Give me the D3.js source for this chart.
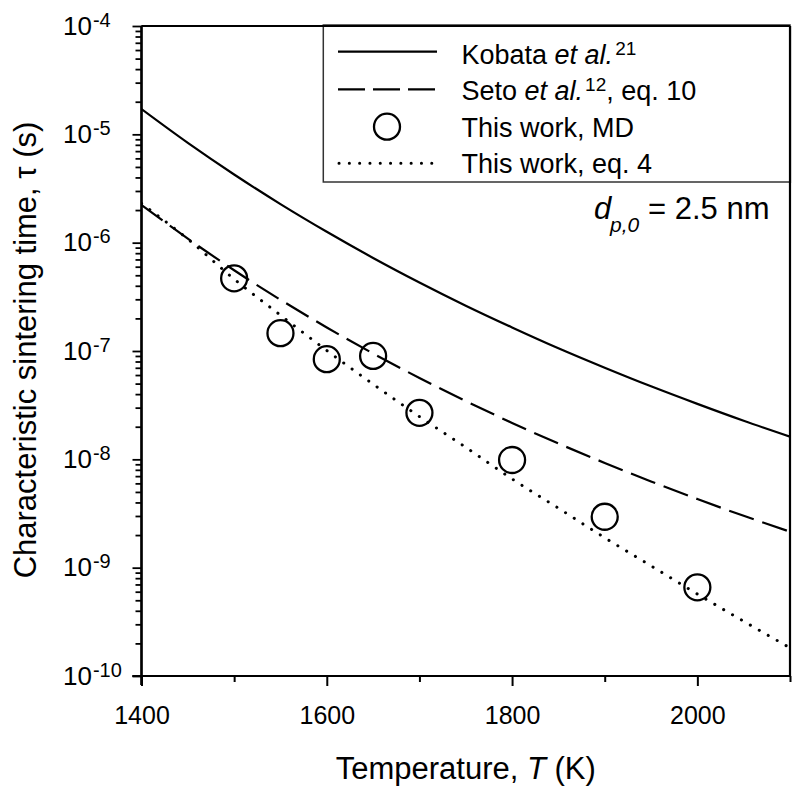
<!DOCTYPE html>
<html>
<head>
<meta charset="utf-8">
<script src="https://cdn.jsdelivr.net/npm/d3@7"></script>
<style>
  html, body { margin: 0; padding: 0; background: #fff; }
  svg { display: block; }
  text { font-family: "Liberation Sans", Arial, sans-serif; fill: #000; }
</style>
</head>
<body>
<svg id="chart" width="800" height="798"></svg>
<script>
// ---- Data ----
const temperatures = [1400, 1450, 1500, 1550, 1600, 1650, 1700, 1750, 1800, 1850, 1900, 1950, 2000, 2050, 2100];
const kobata = [1.71e-5, 8.34e-6, 4.26e-6, 2.27e-6, 1.26e-6, 7.23e-7, 4.29e-7, 2.62e-7, 1.65e-7, 1.06e-7, 7.01e-8, 4.72e-8, 3.25e-8, 2.27e-8, 1.62e-8];
const seto = [2.23e-6, 1.09e-6, 5.56e-7, 2.97e-7, 1.65e-7, 9.48e-8, 5.64e-8, 3.45e-8, 2.17e-8, 1.40e-8, 9.27e-9, 6.25e-9, 4.30e-9, 3.01e-9, 2.15e-9];
const eq4 = [2.30e-6, 1.08e-6, 4.61e-7, 2.14e-7, 1.01e-7, 4.94e-8, 2.48e-8, 1.29e-8, 6.59e-9, 3.54e-9, 1.89e-9, 1.04e-9, 5.71e-10, 3.20e-10, 1.82e-10];
const mdT = [1500, 1550, 1600, 1650, 1700, 1800, 1900, 2000];
const mdTau = [4.69e-7, 1.46e-7, 8.4e-8, 9.0e-8, 2.69e-8, 9.86e-9, 2.95e-9, 6.59e-10];

const xMajorTicks = [1400, 1600, 1800, 2000];
const xMinorTicks = [1500, 1700, 1900, 2100];
const yExponents = [-4, -5, -6, -7, -8, -9, -10];

const svg = d3.select("#chart");
const L = 141.5, R = 790, T = 26, B = 676;
const x = d3.scaleLinear().domain([1400, 2100]).range([L, R]);
const y = d3.scaleLog().domain([1e-10, 1e-4]).range([B, T]);

const font = '"Liberation Sans", Arial, sans-serif';

// frame top & right
svg.append("line").attr("x1", L).attr("x2", R).attr("y1", T).attr("y2", T)
  .attr("stroke", "#000").attr("stroke-width", 2.2);
svg.append("line").attr("x1", R).attr("x2", R).attr("y1", T).attr("y2", B)
  .attr("stroke", "#000").attr("stroke-width", 2.2);

// x axis
const gx = svg.append("g").attr("transform", `translate(0,${B})`);
gx.call(d3.axisBottom(x).tickValues(xMajorTicks).tickSize(10).tickPadding(20)
  .tickFormat(d3.format("d")));
const gxm = svg.append("g").attr("transform", `translate(0,${B})`);
gxm.call(d3.axisBottom(x).tickValues(xMinorTicks).tickSize(6).tickFormat(""));
[gx, gxm].forEach(g => {
  g.select(".domain").attr("stroke", "#000").attr("stroke-width", 2.2)
    .attr("d", `M${L - 9},0H${R}`);
  g.selectAll(".tick line").attr("stroke", "#000").attr("stroke-width", 2);
});
gx.selectAll(".tick text").attr("font-size", 25).attr("font-family", font).attr("fill", "#000");

// y axis major / minor
const yMajorVals = yExponents.map(e => Math.pow(10, e));
const yMinorVals = [];
for (let e = -10; e < -4; e++) for (let m = 2; m <= 9; m++) yMinorVals.push(m * Math.pow(10, e));
const gy = svg.append("g").attr("transform", `translate(${L},0)`);
gy.call(d3.axisLeft(y).tickValues(yMajorVals).tickSize(9).tickFormat(""));
const gym = svg.append("g").attr("transform", `translate(${L},0)`);
gym.call(d3.axisLeft(y).tickValues(yMinorVals).tickSize(6).tickFormat(""));
[gy, gym].forEach(g => {
  g.select(".domain").attr("stroke", "#000").attr("stroke-width", 2.2)
    .attr("d", `M0,${B + 9}V${T}`);
  g.selectAll(".tick line").attr("stroke", "#000").attr("stroke-width", 1.8);
});
// y tick labels 10^n
yExponents.forEach(e => {
  const yy = y(Math.pow(10, e));
  const t = svg.append("text").attr("x", 63).attr("y", yy + 8.5)
    .attr("font-size", 26).attr("font-family", font);
  t.append("tspan").text("10");
  t.append("tspan").attr("font-size", 20).attr("dy", -8).attr("dx", 1).text("-" + Math.abs(e));
});

// axis titles
const xt = svg.append("text").attr("x", (L + R) / 2).attr("y", 779)
  .attr("text-anchor", "middle").attr("font-size", 31).attr("font-family", font);
xt.append("tspan").text("Temperature, ");
xt.append("tspan").attr("font-style", "italic").text("T");
xt.append("tspan").text(" (K)");

svg.append("text").attr("transform", "translate(36,350) rotate(-90)")
  .attr("text-anchor", "middle").attr("font-size", 31).attr("font-family", font)
  .text("Characteristic sintering time, τ (s)");

// curves
const clip = svg.append("clipPath").attr("id", "plotclip").append("rect")
  .attr("x", L).attr("y", T).attr("width", R - L).attr("height", B - T);
const line = d3.line().x(d => x(d[0])).y(d => y(d[1])).curve(d3.curveMonotoneX);
const plot = svg.append("g").attr("clip-path", "url(#plotclip)");

plot.append("path").datum(temperatures.map((t, i) => [t, kobata[i]]))
  .attr("d", line).attr("fill", "none").attr("stroke", "#000").attr("stroke-width", 2.2);
plot.append("path").datum(temperatures.map((t, i) => [t, seto[i]]))
  .attr("d", line).attr("fill", "none").attr("stroke", "#000").attr("stroke-width", 2.2)
  .attr("stroke-dasharray", "26,9");
plot.append("path").datum(temperatures.map((t, i) => [t, eq4[i]]))
  .attr("d", line).attr("fill", "none").attr("stroke", "#000").attr("stroke-width", 3)
  .attr("stroke-linecap", "round").attr("stroke-dasharray", "0.1,10.2");

// MD points
svg.append("g").selectAll("circle").data(mdT.map((t, i) => [t, mdTau[i]])).join("circle")
  .attr("cx", d => x(d[0])).attr("cy", d => y(d[1])).attr("r", 13)
  .attr("fill", "none").attr("stroke", "#000").attr("stroke-width", 2.3);

// annotation d_p,0 = 2.5 nm
const ann = svg.append("text").attr("y", 218.5).attr("font-size", 31).attr("font-family", font);
ann.append("tspan").attr("x", 594).attr("font-style", "italic").text("d");
ann.append("tspan").attr("x", 610).attr("dy", 13).attr("font-size", 21).attr("font-style", "italic").text("p,0");
ann.append("tspan").attr("x", 648).attr("dy", -13).text("= 2.5 nm");

// legend
const lg = svg.append("g");
lg.append("rect").attr("x", 323.3).attr("y", 25).attr("width", 790 - 323.3).attr("height", 157)
  .attr("fill", "#fff").attr("stroke", "#333").attr("stroke-width", 1.5);
lg.append("line").attr("x1", R).attr("x2", R).attr("y1", T).attr("y2", 183)
  .attr("stroke", "#000").attr("stroke-width", 2.2);
lg.append("line").attr("x1", L).attr("x2", R).attr("y1", T).attr("y2", T)
  .attr("stroke", "#000").attr("stroke-width", 2.2);
const lx1 = 338, lx2 = 437, tx = 461.5;
lg.append("line").attr("x1", lx1).attr("x2", lx2).attr("y1", 51.7).attr("y2", 51.7)
  .attr("stroke", "#000").attr("stroke-width", 2.2);
lg.append("line").attr("x1", lx1).attr("x2", lx2).attr("y1", 89.3).attr("y2", 89.3)
  .attr("stroke", "#000").attr("stroke-width", 2.2).attr("stroke-dasharray", "27,8");
lg.append("circle").attr("cx", 387).attr("cy", 126.7).attr("r", 13)
  .attr("fill", "none").attr("stroke", "#000").attr("stroke-width", 2.3);
lg.append("line").attr("x1", lx1 + 1).attr("x2", lx2).attr("y1", 163.3).attr("y2", 163.3)
  .attr("stroke", "#000").attr("stroke-width", 3).attr("stroke-linecap", "round")
  .attr("stroke-dasharray", "0.1,10.2");

const t1 = lg.append("text").attr("x", tx).attr("y", 63.5).attr("font-size", 27).attr("font-family", font);
t1.append("tspan").text("Kobata ");
t1.append("tspan").attr("font-style", "italic").text("et al.");
t1.append("tspan").attr("font-size", 19).attr("dy", -9).attr("dx", 2).text("21");

const t2 = lg.append("text").attr("x", tx).attr("y", 100).attr("font-size", 27).attr("font-family", font);
t2.append("tspan").text("Seto ");
t2.append("tspan").attr("font-style", "italic").text("et al.");
t2.append("tspan").attr("font-size", 19).attr("dy", -9).attr("dx", 2).text("12");
t2.append("tspan").attr("dy", 9).text(", eq. 10");

lg.append("text").attr("x", tx).attr("y", 136.5).attr("font-size", 27).attr("font-family", font)
  .text("This work, MD");
lg.append("text").attr("x", tx).attr("y", 172.5).attr("font-size", 27).attr("font-family", font)
  .text("This work, eq. 4");
</script>
</body>
</html>
